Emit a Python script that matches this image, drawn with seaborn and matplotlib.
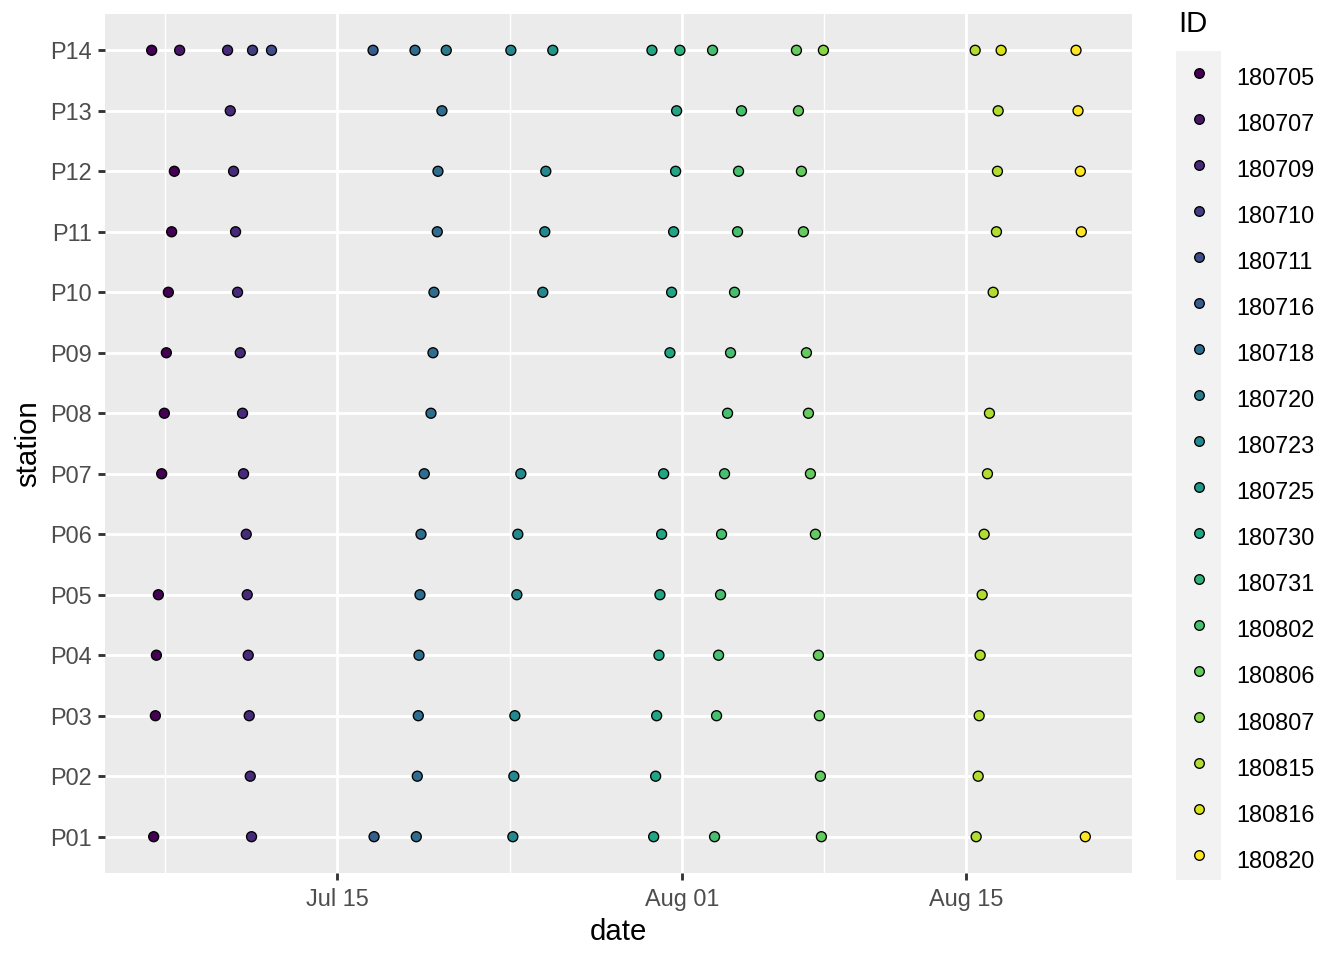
import numpy as np
import pandas as pd
import matplotlib
matplotlib.use("Agg")
import matplotlib.pyplot as plt
import matplotlib.dates as mdates
from matplotlib.colors import to_hex
from matplotlib.patches import Rectangle
import seaborn as sns

plt.rcParams["font.family"] = ["Liberation Sans", "DejaVu Sans"]

# campaign IDs (legend order) and stations (bottom to top)
ids = ["180705", "180707", "180709", "180710", "180711", "180716",
       "180718", "180720", "180723", "180725", "180730", "180731",
       "180802", "180806", "180807", "180815", "180816", "180820"]
stations = ["P%02d" % i for i in range(1, 15)]

# stations visited and visit times (2018, month-day hour:minute) per ID
st_180705 = ["P14", "P01", "P03", "P04", "P05", "P07", "P08", "P09", "P10", "P11", "P12"]
tm_180705 = ["07-05 20:47", "07-05 23:08", "07-06 01:09", "07-06 02:20", "07-06 04:41",
             "07-06 08:36", "07-06 11:46", "07-06 14:08", "07-06 16:29", "07-06 20:23",
             "07-06 23:34"]
st_180707 = ["P14"]
tm_180707 = ["07-07 05:50"]
st_180709 = ["P14", "P13", "P12", "P11", "P10", "P09", "P08", "P07", "P06", "P05",
             "P04", "P03", "P02", "P01"]
tm_180709 = ["07-09 14:30", "07-09 17:41", "07-09 21:35", "07-09 23:57", "07-10 02:18",
             "07-10 05:30", "07-10 08:12", "07-10 09:23", "07-10 12:34", "07-10 13:45",
             "07-10 14:56", "07-10 16:06", "07-10 17:18", "07-10 18:50"]
st_180710 = ["P14"]
tm_180710 = ["07-10 20:01"]
st_180711 = ["P14"]
tm_180711 = ["07-11 18:26"]
st_180716 = ["P14", "P01"]
tm_180716 = ["07-16 18:30", "07-16 19:41"]
st_180718 = ["P14", "P01", "P02", "P03", "P04", "P05", "P06", "P07", "P08", "P09",
             "P10", "P11", "P12", "P13"]
tm_180718 = ["07-18 20:05", "07-18 21:37", "07-18 22:48", "07-18 23:59", "07-19 00:48",
             "07-19 01:59", "07-19 03:10", "07-19 07:03", "07-19 14:58", "07-19 17:20",
             "07-19 18:30", "07-19 22:25", "07-19 23:14", "07-20 03:57"]
st_180720 = ["P14"]
tm_180720 = ["07-20 09:02"]
st_180723 = ["P14", "P01", "P02", "P03", "P05", "P06", "P07", "P10", "P11", "P12"]
tm_180723 = ["07-23 13:25", "07-23 15:46", "07-23 16:57", "07-23 18:08", "07-23 20:30",
             "07-23 21:40", "07-24 01:13", "07-25 03:11", "07-25 05:33", "07-25 06:44"]
st_180725 = ["P14"]
tm_180725 = ["07-25 15:00"]
st_180730 = ["P14", "P01", "P02", "P03", "P04", "P05", "P06", "P07", "P09", "P10",
             "P11", "P12", "P13"]
tm_180730 = ["07-30 12:13", "07-30 14:14", "07-30 16:35", "07-30 17:46", "07-30 20:30",
             "07-30 21:40", "07-30 23:40", "07-31 02:02", "07-31 09:29", "07-31 11:28",
             "07-31 13:51", "07-31 16:12", "07-31 17:22"]
st_180731 = ["P14"]
tm_180731 = ["07-31 21:17"]
st_180802 = ["P14", "P01", "P03", "P04", "P05", "P06", "P07", "P08", "P09", "P10",
             "P11", "P12", "P13"]
tm_180802 = ["08-02 11:53", "08-02 14:14", "08-02 16:36", "08-02 18:58", "08-02 21:19",
             "08-02 22:30", "08-03 02:02", "08-03 05:35", "08-03 09:07", "08-03 13:51",
             "08-03 17:24", "08-03 18:35", "08-03 22:06"]
st_180806 = ["P14", "P13", "P12", "P11", "P09", "P08", "P07", "P06", "P04", "P03",
             "P02", "P01"]
tm_180806 = ["08-06 15:03", "08-06 17:24", "08-06 20:57", "08-06 23:18", "08-07 02:51",
             "08-07 05:13", "08-07 07:34", "08-07 13:28", "08-07 17:01", "08-07 18:12",
             "08-07 19:22", "08-07 20:33"]
st_180807 = ["P14"]
tm_180807 = ["08-07 22:55"]
st_180815 = ["P14", "P01", "P02", "P03", "P04", "P05", "P06", "P07", "P08", "P10",
             "P11", "P12", "P13"]
tm_180815 = ["08-15 10:21", "08-15 11:31", "08-15 13:54", "08-15 15:04", "08-15 16:15",
             "08-15 18:37", "08-15 20:58", "08-16 00:52", "08-16 03:14", "08-16 07:36",
             "08-16 11:30", "08-16 12:41", "08-16 13:31"]
st_180816 = ["P14"]
tm_180816 = ["08-16 17:02"]
st_180820 = ["P14", "P13", "P12", "P11", "P01"]
tm_180820 = ["08-20 09:35", "08-20 11:57", "08-20 14:40", "08-20 15:50", "08-20 20:34"]

major_ticks = ["2018-07-15", "2018-08-01", "2018-08-15"]

station_lists = [st_180705, st_180707, st_180709, st_180710, st_180711, st_180716,
                 st_180718, st_180720, st_180723, st_180725, st_180730, st_180731,
                 st_180802, st_180806, st_180807, st_180815, st_180816, st_180820]
time_lists = [tm_180705, tm_180707, tm_180709, tm_180710, tm_180711, tm_180716,
              tm_180718, tm_180720, tm_180723, tm_180725, tm_180730, tm_180731,
              tm_180802, tm_180806, tm_180807, tm_180815, tm_180816, tm_180820]

frames = []
for i, st, tm in zip(ids, station_lists, time_lists):
    frames.append(pd.DataFrame({"ID": i, "station": st,
                                "date": pd.to_datetime(["2018-" + t for t in tm])}))
df = pd.concat(frames, ignore_index=True)
# sort so the categorical axis puts P01 at the bottom
df["station"] = pd.Categorical(df["station"], categories=stations, ordered=True)
df = df.sort_values("station", kind="stable")
df["station"] = df["station"].astype(str)

palette = dict(zip(ids, [to_hex(c) for c in plt.cm.viridis(np.linspace(0, 1, len(ids)))]))

fig = plt.figure(figsize=(7, 5), dpi=192)
ax = fig.add_axes([105 / 1344, 87 / 960, 1027 / 1344, 859 / 960])
sns.scatterplot(data=df, x="date", y="station", hue="ID", hue_order=ids,
                palette=palette, s=14, edgecolor="black", linewidth=0.5,
                ax=ax, zorder=3)

# ggplot grey look
ax.set_facecolor("#EBEBEB")
for sp in ax.spines.values():
    sp.set_visible(False)
ax.set_axisbelow(True)

lo = mdates.date2num(df["date"].min())
hi = mdates.date2num(df["date"].max())
pad = 0.05 * (hi - lo)
ax.set_xlim(lo - pad, hi + pad)
ax.set_ylim(-0.6, len(stations) - 0.4)

majors = mdates.date2num(pd.to_datetime(major_ticks))
minors = [majors[0] - (majors[1] - majors[0]) / 2] + list((majors[:-1] + majors[1:]) / 2)
ax.xaxis.set_major_locator(plt.FixedLocator(majors))
ax.xaxis.set_minor_locator(plt.FixedLocator(minors))
ax.xaxis.set_major_formatter(mdates.DateFormatter("%b %d"))

ax.grid(which="major", color="white", linewidth=1.07)
ax.grid(which="minor", axis="x", color="white", linewidth=0.53)
ax.tick_params(which="major", length=2.75, width=1.07, color="#333333",
               labelcolor="#4D4D4D", labelsize=8.8, pad=2.2)
ax.tick_params(axis="x", which="major", pad=2.7)
ax.tick_params(which="minor", length=0)

ax.set_xlabel("date", fontsize=11, labelpad=2.75)
ax.set_ylabel("station", fontsize=11, labelpad=2.75)

fs = 8.8 * 192 / 72
sns.move_legend(ax, "upper left", bbox_to_anchor=(1176 / 1344, 1 - 60 / 960),
                bbox_transform=fig.transFigure, frameon=False, title=None,
                fontsize=8.8, handleheight=46.06 / fs, handlelength=45 / fs,
                handletextpad=0.64, labelspacing=0.44, borderpad=0, borderaxespad=0)
leg = ax.get_legend()
for h in leg.legend_handles:
    try:
        h.set_markeredgecolor("black")
        h.set_markeredgewidth(0.5)
        h.set_markersize(np.sqrt(13))
    except AttributeError:
        h.set_edgecolor("black")
fig.text(1178 / 1344, 1 - 24 / 960, "ID", fontsize=11, ha="left", va="center")

# grey key background column
fig.patches.append(Rectangle((1176 / 1344, 80 / 960), 45 / 1344, 829 / 960,
                             transform=fig.transFigure, facecolor="#F2F2F2",
                             edgecolor="none", zorder=-1))

fig.savefig("out.png", dpi=192)
